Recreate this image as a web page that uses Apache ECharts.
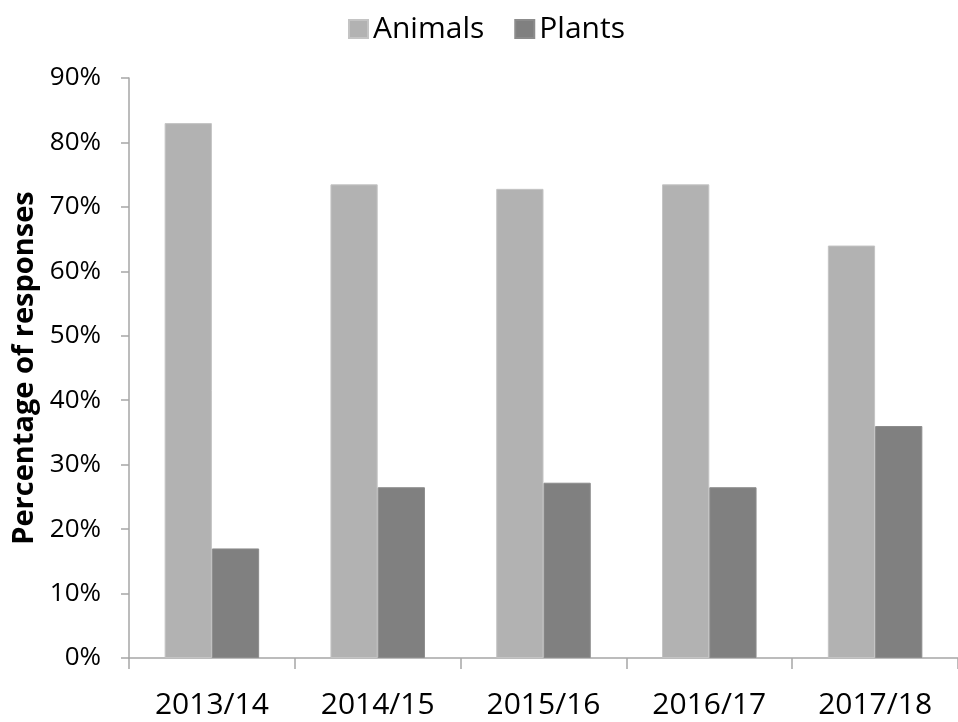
<!DOCTYPE html>
<html>
<head>
<meta charset="utf-8">
<script src="https://cdn.jsdelivr.net/npm/echarts@6/dist/echarts.min.js"></script>
<style>html,body{margin:0;padding:0;background:#fff;}#main{width:958px;height:722px;}</style>
</head>
<body>
<div id="main"></div>
<script>
const categories = ['2013/14', '2014/15', '2015/16', '2016/17', '2017/18'];
const animals = [83, 73.5, 72.8, 73.5, 64];
const plants = [17, 26.5, 27.2, 26.5, 36];
const yTicks = { min: 0, max: 90, interval: 10 };

const chart = echarts.init(document.getElementById('main'));
const font = '"Open Sans", "Liberation Sans", sans-serif';
chart.setOption({
  animation: false,
  backgroundColor: '#ffffff',
  textStyle: { fontFamily: font, color: '#000' },
  legend: {
    left: 343, top: 9,
    itemWidth: 19, itemHeight: 18, itemGap: 30, itemTextGap: 12,
    icon: 'rect',
    textStyle: { fontFamily: font, fontSize: 30, color: '#000' },
    data: ['Animals', 'Plants']
  },
  grid: { left: 129, top: 78, bottom: 64, width: 841 },
  xAxis: {
    type: 'category',
    data: categories,
    axisLine: { lineStyle: { color: '#a6a6a6', width: 1.5 } },
    axisTick: { show: true, length: 11, lineStyle: { color: '#a6a6a6', width: 1.5 } },
    axisLabel: { fontFamily: font, fontSize: 30, color: '#000', margin: 32 }
  },
  yAxis: {
    type: 'value',
    min: yTicks.min, max: yTicks.max, interval: yTicks.interval,
    name: 'Percentage of responses',
    nameLocation: 'middle',
    nameGap: 75,
    nameTextStyle: { fontFamily: font, fontSize: 29, fontWeight: 'bold', color: '#000' },
    axisLine: { show: true, lineStyle: { color: '#a6a6a6', width: 1.5 } },
    axisTick: { show: true, length: 8, lineStyle: { color: '#a6a6a6', width: 1.5 } },
    splitLine: { show: false },
    axisLabel: { fontFamily: font, fontSize: 26, color: '#000', margin: 28, formatter: '{value}%' }
  },
  series: [
    { name: 'Animals', type: 'bar', data: animals, barGap: '0%', barCategoryGap: '43%',
      itemStyle: { color: '#b2b2b2', borderColor: '#c4c4c4', borderWidth: 1 } },
    { name: 'Plants', type: 'bar', data: plants, barGap: '0%', barCategoryGap: '43%',
      itemStyle: { color: '#808080', borderColor: '#8c8c8c', borderWidth: 1 } }
  ]
});
</script>
</body>
</html>
